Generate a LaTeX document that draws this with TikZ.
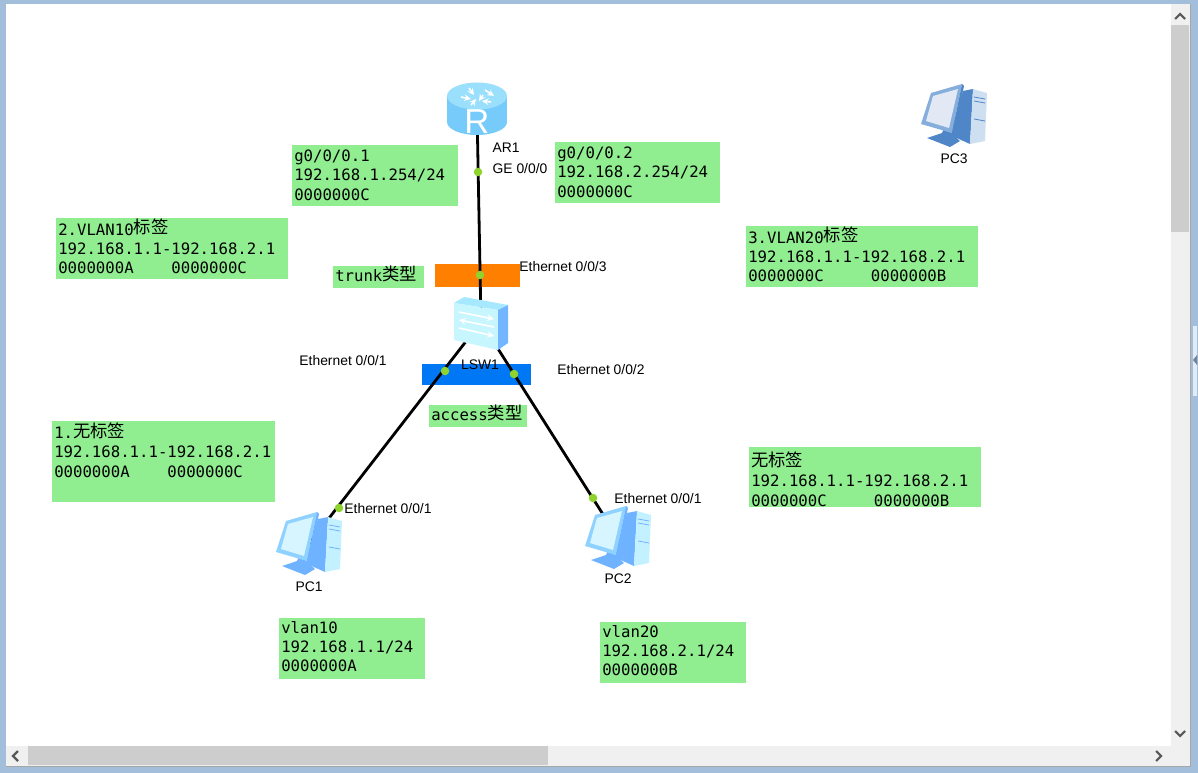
\documentclass[tikz,border=0pt]{standalone}
\usepackage{fontspec}
\usepackage{xcolor}
\setmainfont{Liberation Sans}
\newfontfamily\boxfont{DejaVu Sans Mono}
\newfontfamily\cjk{Noto Sans CJK SC}
\newcommand{\zh}[1]{\smash{\raisebox{1pt}{\cjk\fontsize{13}{14.4}\selectfont #1}}}
\newcommand{\gapfour}{\phantom{0000}}
\newcommand{\gapfive}{\phantom{00000}}
\definecolor{boxgreen}{HTML}{90EE90}
\definecolor{portgreen}{HTML}{8FD42E}
\definecolor{framecol}{HTML}{A3BEDB}
\definecolor{trackcol}{HTML}{F0F0F0}
\definecolor{thumbcol}{HTML}{CDCDCD}
\definecolor{routerside}{HTML}{76CBFA}
\definecolor{routertop}{HTML}{9ADFFC}
\definecolor{switchfront}{HTML}{C8F6FF}
\definecolor{switchtop}{HTML}{A6E9FF}
\definecolor{switchside}{HTML}{73B5FF}
\definecolor{pcscreen}{HTML}{D6F5FF}
\definecolor{pcframe}{HTML}{8FD2FF}
\definecolor{pcside}{HTML}{6FB2FF}
\definecolor{pcfront}{HTML}{C4F1FF}
\definecolor{offscreen}{HTML}{E2E9F4}
\definecolor{offframe}{HTML}{86AEDD}
\definecolor{offside}{HTML}{4F86C8}
\definecolor{offfront}{HTML}{CFDFF2}
\tikzset{
  infobox/.style={fill=boxgreen,anchor=north west,inner xsep=1.5pt,inner ysep=0pt,align=left,
    font=\boxfont\fontsize{11.75}{14.4}\selectfont},
  devlabel/.style={font=\fontsize{10.4}{12}\selectfont,text=black,inner sep=0pt},
  link/.style={line width=2.1pt,black},
  port/.style={circle,fill=portgreen,inner sep=0pt,minimum size=6.4pt},
  hub/.style={inner sep=0pt,minimum size=0pt},
  chevron/.style={line width=1.6pt,black!65},
  pics/pcicon/.style n args={4}{code={
    \fill[#3] (9,-25)--(19,-27)--(16,28)--(-4,19)--cycle;
    \fill[#4] (19,-27)--(33,-23)--(31,25)--(16,28)--cycle;
    \fill[#3] (-27,22)--(-12,17)--(-9,10)--(-4,12)--(-4,16)--(6,25)--(-4,31)--cycle;
    \fill[#2] (-33,8)--(-23,-23)--(8,-32)--(-2,17)--cycle;
    \fill[#3] (8,-32)--(10,-30)--(0,18)--(-2,17)--cycle;
    \fill[#1] (-28,5)--(-21,-20)--(4,-27)--(-5,12)--cycle;
    \foreach \y in {-19,-15,3}{
      \draw[#3,line width=.6pt] (20,\y)--(31,\y+2);
    }
  }},
  pics/routericon/.style={code={
    \fill[routerside] (0,12) ellipse[x radius=30,y radius=13];
    \fill[routerside] (-30,-14) rectangle (30,12);
    \fill[routertop] (0,-14) ellipse[x radius=30,y radius=13.5];
    \foreach \a/\b/\c/\d in {-8/-22/-3/-15, 8/-20/17/-14, -16/-13/-6/-11, 6/-15/2/-9, -6/-5/-1/-11, 14/-8/5/-9}{
      \draw[-stealth,white,line width=1.2pt] (\a,\b)--(\c,\d);
    }
    \node[white,inner sep=0pt,font=\fontsize{26}{26}\selectfont] (rlabel) at (0,12) {R};
  }},
  pics/switchicon/.style={code={
    \fill[switchtop] (-27,-19)--(-17,-25)--(27,-17)--(17,-12)--cycle;
    \fill[switchfront] (-27,-19)--(17,-12)--(17,28)--(-27,18)--cycle;
    \fill[switchside] (17,-12)--(27,-17)--(27,21)--(17,28)--cycle;
    \foreach \a/\b/\c/\d in {-22/-10/13/-3, 13/5/-22/-2, -22/6/13/14}{
      \draw[-stealth,white,line width=1.2pt] (\a,\b)--(\c,\d);
    }
  }},
}
\begin{document}
\begin{tikzpicture}[x=0.75pt,y=-0.75pt]
\useasboundingbox (0,0) rectangle (1198,773);
\fill[framecol] (0,0) rectangle (1198,773);
\fill[white] (6,4) rectangle (1171,746);
\fill[trackcol] (1171,4) rectangle (1190,766);
\fill[trackcol] (6,746) rectangle (1171,766);
\fill[thumbcol] (1171,25) rectangle (1189,232);
\fill[thumbcol] (28,746) rectangle (548,765);
\draw[black!35,line width=.5pt] (1190.5,4)--(1190.5,766)--(6,766);
\fill[white!70!framecol] (1193,326) rectangle (1197,396);
\fill[framecol!70!black] (1197,355)--(1193,360)--(1197,365)--cycle;
\draw[chevron] (1175,19)--(1180,14)--(1185,19);
\draw[chevron] (1175,731)--(1180,736)--(1185,731);
\draw[chevron] (18,751)--(13,756)--(18,761);
\draw[chevron] (1156,751)--(1161,756)--(1156,761);

\foreach \name/\x/\y/\w/\h/\dep/\txt in {
  vlanA/292/145/166/61/1pt/{g0/0/0.1\\192.168.1.254/24\\0000000C},
  vlanB/555/142/165/61/1pt/{g0/0/0.2\\192.168.2.254/24\\0000000C},
  tagA/56/218/232/61/0pt/{2.VLAN10\zh{标签}\\192.168.1.1-192.168.2.1\\0000000A\gapfour 0000000C},
  tagB/746/226/232/61/0pt/{3.VLAN20\zh{标签}\\192.168.1.1-192.168.2.1\\0000000C\gapfive 0000000B},
  plainA/52/421/223/81/0pt/{1.\zh{无标签}\\192.168.1.1-192.168.2.1\\0000000A\gapfour 0000000C\\~},
  plainB/749/447/232/60/0pt/{\rule{0pt}{14.6pt}\zh{无标签}\\192.168.1.1-192.168.2.1\\0000000C\gapfive 0000000B},
  hostA/279/618/146/61/3.8pt/{vlan10\\192.168.1.1/24\\0000000A},
  hostB/600/622/146/61/3.8pt/{vlan20\\192.168.2.1/24\\0000000B},
  trunktype/333/266/91/22/2pt/{trunk\zh{类型}},
  accesstype/429/405/98/22/0pt/{access\zh{类型}}}{
  \node[infobox,minimum width=\w*0.75pt,minimum height=\h*0.75pt,text width=\w*0.75pt-3pt] (\name) at (\x,\y) {\txt\rule[-\dep]{0pt}{0pt}};
}

\node[fill={rgb,255:red,255;green,128;blue,0},inner sep=0pt,minimum width=63.75pt,minimum height=17.25pt] (trunkbar) at (477.5,275.5) {};
\node[fill={rgb,255:red,0;green,120;blue,245},inner sep=0pt,minimum width=81.75pt,minimum height=15.75pt] (accessbar) at (476.5,374.5) {};

\foreach \name/\x/\y in {AR1/477/110, LSW1/481/322, PC1/309/544, PC2/618/538, PC3/954/116}{
  \node[hub] (\name) at (\x,\y) {};
}
\draw[link] (AR1)--(LSW1);
\draw[link] (LSW1)--(PC1);
\draw[link] (LSW1)--(PC2);

\foreach \name/\x/\y in {portA/478/172, portB/480/275, portC/445/371, portD/514/374, portE/339/508, portF/593/498}{
  \node[port] (\name) at (\x,\y) {};
}

\pic at (AR1) {routericon};
\pic at (LSW1) {switchicon};
\pic at (PC1) {pcicon={pcscreen}{pcframe}{pcside}{pcfront}};
\pic at (PC2) {pcicon={pcscreen}{pcframe}{pcside}{pcfront}};
\pic at (PC3) {pcicon={offscreen}{offframe}{offside}{offfront}};

\foreach \name/\x/\y/\txt in {lblAR1/506/148/AR1, lblGE/520/169/{GE 0/0/0}, lblE3/563/267/{Ethernet 0/0/3},
  lblLSW1/480/365/LSW1, lblE1/343/361/{Ethernet 0/0/1}, lblE2/601/370/{Ethernet 0/0/2},
  lblPC1E/388/509/{Ethernet 0/0/1}, lblPC2E/658/499/{Ethernet 0/0/1},
  lblPC1/309/587/PC1, lblPC2/618/579/PC2, lblPC3/954/159/PC3}{
  \node[devlabel] (\name) at (\x,\y) {\txt};
}
\end{tikzpicture}
\end{document}
